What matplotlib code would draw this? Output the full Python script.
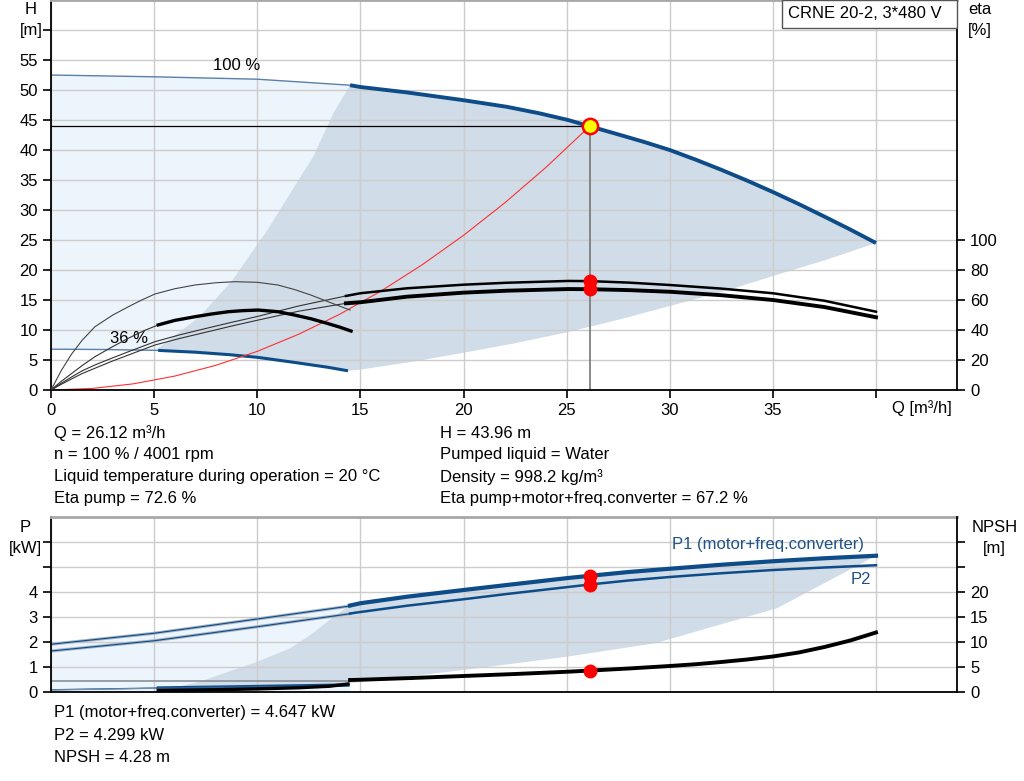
import matplotlib
matplotlib.use('Agg')
import matplotlib.pyplot as plt
from matplotlib.patches import Rectangle

plt.rcParams['font.family'] = ['Liberation Sans', 'DejaVu Sans']
plt.rcParams['font.size'] = 12

# ---------- top panel: head curves [m] ----------
q_h100_thin = [0, 5, 10, 14.5]
h100_thin = [52.5, 52.2, 51.8, 50.8]
q_h100 = [14.5, 15, 17.25, 20, 22.1, 23.7, 25.07, 26.12, 27.5, 28.75, 30, 31.25, 32.5,
          33.75, 35, 36.25, 37.5, 38.75, 40]
h100 = [50.8, 50.5, 49.6, 48.3, 47.2, 46.1, 45.0, 43.96, 42.6, 41.35, 40.0, 38.4, 36.7,
        34.9, 33.0, 31.0, 28.9, 26.75, 24.5]

q_h36_thin = [0, 2.5, 5.2]
h36_thin = [6.8, 6.75, 6.6]
q_h36 = [5.2, 7, 8.6, 10, 11.8, 13.4, 14.4]
h36 = [6.6, 6.3, 5.9, 5.45, 4.6, 3.8, 3.2]

# envelope of the operating range (darker area)
q_env_left = [5.1, 7.2, 8.8, 10.5, 11.6, 12.7, 13.7, 14.5]
h_env_left = [6.7, 12.2, 18.3, 26.7, 32.8, 38.8, 46.2, 50.8]
q_env_low = [14.4, 15, 17.5, 20, 22.5, 25, 27.5, 30, 32.5, 35, 37.5, 40]
h_env_low = [3.2, 3.4, 4.7, 6.2, 7.8, 9.6, 11.7, 14.0, 16.3, 19.0, 21.6, 24.5]

# system curve
q_sys = [0, 2, 4, 6, 8, 10, 12, 14, 16, 18, 20, 22, 24, 26.12]
h_sys = [0, 0.26, 1.03, 2.32, 4.12, 6.44, 9.28, 12.63, 16.49, 20.88, 25.77, 31.19, 37.11, 43.96]

# efficiency curves [%]
q_eta_p_thin = [0, 0.5, 1, 1.5, 2.13, 3, 3.75, 5.04, 6.25, 7.5, 8.75, 10, 12, 14.3]
eta_p_thin = [0, 4.5, 8.7, 12.7, 16.7, 21.5, 25.5, 32.2, 36.8, 41, 45.1, 49, 56, 62.7]
q_eta_p = [14.3, 15, 17.25, 20, 22.1, 25.07, 26.12, 28, 30, 32.5, 35, 37.5, 40]
eta_p = [62.7, 64.5, 67.8, 70.2, 71.5, 72.7, 72.6, 71.6, 70.0, 67.6, 64.5, 59.5, 52.2]

q_eta_t_thin = [0, 0.5, 1, 1.5, 2.13, 3, 3.75, 5.04, 6.25, 7.5, 8.75, 10, 12, 14.3]
eta_t_thin = [0, 3.8, 7.4, 10.9, 14.5, 19.4, 23.3, 30.0, 34.4, 38.5, 42.6, 46.5, 52.5, 57.8]
q_eta_t = [14.3, 15, 17.25, 20, 22.1, 25.07, 26.12, 28, 30, 32.5, 35, 37.5, 40]
eta_t = [57.8, 58.5, 62.2, 64.9, 66.2, 67.3, 67.2, 66.6, 65.5, 63.2, 60.0, 55.3, 48.5]

q_eta_p36 = [0, 0.5, 1, 1.5, 2.13, 3, 3.75, 4.4, 5.04, 6, 6.98, 8, 8.9, 10, 11, 11.8,
             12.6, 13.5, 14.5]
eta_p36 = [0, 13, 24, 33, 42.2, 50, 55.5, 60, 64, 67.5, 70, 71.5, 72.2, 71.8, 70, 67,
           63.3, 58.5, 53.3]

q_eta_t36_thin = [0, 0.5, 1, 1.5, 2.13, 3, 3.75, 4.5, 5.2]
eta_t36_thin = [0, 5.8, 11, 16.2, 22.2, 29, 34.5, 39.5, 43.4]
q_eta_t36 = [5.2, 6, 7, 7.8, 8.6, 9.3, 10.05, 11, 11.8, 12.6, 13.4, 14.0, 14.55]
eta_t36 = [43.4, 46.4, 48.9, 50.7, 52.2, 52.9, 53.3, 52.2, 50.0, 47.5, 44.4, 41.9, 39.3]

# duty point
q_op = 26.12
h_op = 43.96
eta_p_op = 72.6
eta_t_op = 67.2

# ---------- bottom panel: power [kW] and NPSH [m] ----------
q_p_thin = [0, 5, 10, 14.5]
p1_thin = [1.91, 2.35, 2.92, 3.44]
p2_thin = [1.64, 2.05, 2.61, 3.13]
q_p = [14.5, 15, 17.25, 20, 22.1, 25.07, 26.12, 28, 30, 32.5, 35, 37.5, 40]
p1 = [3.46, 3.55, 3.81, 4.08, 4.28, 4.56, 4.647, 4.8, 4.93, 5.09, 5.23, 5.35, 5.45]
p2 = [3.14, 3.2, 3.45, 3.71, 3.92, 4.2, 4.299, 4.46, 4.6, 4.75, 4.88, 4.98, 5.07]

q_p36_thin = [0, 5.2]
p1_36_thin = [0.09, 0.16]
p2_36_thin = [0.08, 0.15]
q_p36 = [5.2, 10, 14.4]
p1_36 = [0.16, 0.22, 0.28]
p2_36 = [0.15, 0.2, 0.25]

q_gray = [0, 14.4]
p_gray = [0.44, 0.44]

q_npsh = [14.5, 15, 17.5, 20, 22.5, 25.07, 26.12, 28, 30, 31.25, 32.5, 33.75, 35, 36.25,
          37.5, 38.75, 40]
npsh = [2.4, 2.45, 2.8, 3.2, 3.6, 4.06, 4.28, 4.7, 5.2, 5.55, 6.0, 6.5, 7.1, 7.9, 9.0,
        10.3, 11.9]
q_npsh36 = [5.2, 7.5, 10, 12, 13.5, 14.4]
npsh36 = [0.3, 0.42, 0.62, 0.85, 1.15, 1.6]

q_penv_left = [5.2, 7.2, 10, 11.6, 12.7, 13.7, 14.5]
p_penv_left = [0.02, 0.41, 1.21, 1.75, 2.35, 3.01, 3.46]
q_penv_low = [5.2, 14.5, 20, 25, 29.3, 35.2, 40]
p_penv_low = [0.02, 0.35, 0.88, 1.41, 1.95, 3.35, 5.45]

npsh_op = 4.28

BLUE = '#0d4c88'
BLUE_TXT = '#1f5286'
LIGHT = '#edf5fc'
DARK = '#d0dce7'
GRID = '#cccccc'

W, H = 1024, 781
fig = plt.figure(figsize=(W / 100, H / 100), dpi=100)


def fx(x):
    return x / W


def fy(y):
    return 1 - y / H


xmax = 906 / 20.625

# ================= top panel =================
ax = fig.add_axes([fx(51), fy(390), fx(906), 390 / H])
ax.set_xlim(0, xmax)
ax.set_ylim(0, 65)

ax.fill(q_h100_thin + q_h36[::-1] + q_h36_thin[::-1],
        h100_thin + h36[::-1] + h36_thin[::-1], color=LIGHT, lw=0, zorder=0.2)
ax.fill(q_env_left + q_h100[1:] + q_env_low[::-1] + q_h36[::-1],
        h_env_left + h100[1:] + h_env_low[::-1] + h36[::-1], color=DARK, lw=0, zorder=0.3)

ax.plot(q_h100_thin, h100_thin, color='#5a80a8', lw=1.0)
ax.plot(q_h100, h100, color=BLUE, lw=2.8, solid_capstyle='butt')
ax.plot(q_h36_thin, h36_thin, color='#5a80a8', lw=1.0)
ax.plot(q_h36, h36, color=BLUE, lw=2.2, solid_capstyle='butt')
ax.plot(q_sys, h_sys, color='#ff3030', lw=0.8)
ax.plot([0, q_op], [h_op, h_op], color='black', lw=0.9)
ax.plot([q_op, q_op], [0, h_op], color='#777777', lw=1.2)
ax.plot([q_op], [h_op], marker='o', ms=11, mfc='#ffff00', mec='#ff0000', mew=1.8, zorder=6)

ax.text(9, 54, '100 %', ha='center', va='center', fontsize=12)
ax.text(3.8, 8.6, '36 %', ha='center', va='center', fontsize=12)

ax.set_xticks(range(0, 41, 5))
ax.set_xticklabels([str(v) for v in range(0, 36, 5)] + [''])
ax.set_yticks(range(0, 61, 5))
ax.set_yticklabels([str(v) for v in range(0, 56, 5)] + [''])
ax.tick_params(axis='x', length=6, width=1.2, pad=3, labelsize=12)
ax.tick_params(axis='y', length=6, width=1.2, pad=3.5, labelsize=12)
ax.grid(True, color=GRID, lw=1)
ax.set_axisbelow(True)
ax.spines['right'].set_visible(False)
ax.spines['top'].set_color('#a8a8a8')
ax.spines['top'].set_linewidth(2)
for s in ['left', 'bottom']:
    ax.spines[s].set_linewidth(1.3)

axe = ax.twinx()
axe.set_ylim(0, 260)
axe.plot(q_eta_p_thin, eta_p_thin, color='#333333', lw=0.8)
axe.plot(q_eta_p, eta_p, color='black', lw=1.8)
axe.plot(q_eta_t_thin, eta_t_thin, color='#333333', lw=0.8)
axe.plot(q_eta_t, eta_t, color='black', lw=2.8)
axe.plot(q_eta_p36, eta_p36, color='#444444', lw=0.8)
axe.plot(q_eta_t36_thin, eta_t36_thin, color='#333333', lw=0.8)
axe.plot(q_eta_t36, eta_t36, color='black', lw=2.4)
axe.plot([q_op, q_op], [eta_p_op, eta_t_op], ls='none', marker='o', ms=9,
         mfc='#ff0000', mec='#ff0000', zorder=6)
axe.set_yticks(range(0, 101, 20))
axe.tick_params(axis='y', length=6, width=1.2, pad=3.5, labelsize=12)
for s in ['left', 'top', 'bottom']:
    axe.spines[s].set_visible(False)
axe.spines['right'].set_linewidth(1.3)

# ================= bottom panel =================
bx = fig.add_axes([fx(51), fy(692), fx(906), 175 / H])
bx.set_xlim(0, xmax)
bx.set_ylim(0, 7)

bx.fill(q_p_thin + [14.5, 0], p1_thin + [0, 0], color=LIGHT, lw=0, zorder=0.2)
bx.fill(q_penv_left + q_p[1:] + q_penv_low[::-1],
        p_penv_left + p1[1:] + p_penv_low[::-1], color=DARK, lw=0, zorder=0.3)

for qq, pp in [(q_p_thin, p1_thin), (q_p_thin, p2_thin)]:
    bx.plot(qq, pp, color='#a5b3c2', lw=2.2)
    bx.plot(qq, pp, color=BLUE, lw=0.8)
bx.plot(q_p, p1, color=BLUE, lw=3.0)
bx.plot(q_p, p2, color=BLUE, lw=1.8)
bx.plot(q_gray, p_gray, color='#8a9098', lw=1.2)
bx.plot(q_p36_thin, p1_36_thin, color=BLUE, lw=0.9)
bx.plot(q_p36_thin, p2_36_thin, color='#6f8fb0', lw=0.9)
bx.plot(q_p36, p1_36, color=BLUE, lw=2.4)
bx.plot(q_p36, p2_36, color='#2d6096', lw=1.2)
bx.plot([q_op, q_op], [4.647, 4.299], ls='none', marker='o', ms=9,
        mfc='#ff0000', mec='#ff0000', zorder=6)

bx.text(34.75, 5.92, 'P1 (motor+freq.converter)', color=BLUE_TXT, ha='center', va='center', fontsize=12)
bx.text(39.27, 4.52, 'P2', color=BLUE_TXT, ha='center', va='center', fontsize=12)

bx.set_xticks(range(0, 41, 5))
bx.set_xticklabels([])
bx.tick_params(axis='x', length=0)
bx.set_yticks(range(0, 7))
bx.set_yticklabels(['0', '1', '2', '3', '4', '', ''])
bx.tick_params(axis='y', length=6, width=1.2, pad=3.5, labelsize=12)
bx.grid(True, color=GRID, lw=1)
bx.set_axisbelow(True)
bx.spines['right'].set_visible(False)
bx.spines['top'].set_color('#a8a8a8')
bx.spines['top'].set_linewidth(2)
for s in ['left', 'bottom']:
    bx.spines[s].set_linewidth(1.3)

bn = bx.twinx()
bn.set_ylim(0, 35)
bn.plot(q_npsh, npsh, color='black', lw=2.8)
bn.plot(q_npsh36, npsh36, color='black', lw=2.4)
bn.plot([q_op], [npsh_op], ls='none', marker='o', ms=9, mfc='#ff0000', mec='#ff0000', zorder=6)
bn.set_yticks(range(0, 31, 5))
bn.set_yticklabels(['0', '5', '10', '15', '20', '', ''])
bn.tick_params(axis='y', length=6, width=1.2, pad=3.5, labelsize=12)
for s in ['left', 'top', 'bottom']:
    bn.spines[s].set_visible(False)
bn.spines['right'].set_linewidth(1.3)

# ================= labels and texts =================
fig.text(fx(31), fy(10), 'H', ha='center', va='center')
fig.text(fx(31), fy(30), '[m]', ha='center', va='center')
fig.text(fx(980), fy(10), 'eta', ha='center', va='center')
fig.text(fx(980), fy(30), '[%]', ha='center', va='center')
fig.text(fx(892), fy(408), 'Q [m³/h]', ha='left', va='center')
fig.text(fx(25), fy(528), 'P', ha='center', va='center')
fig.text(fx(25), fy(548), '[kW]', ha='center', va='center')
fig.text(fx(995), fy(528), 'NPSH', ha='center', va='center')
fig.text(fx(994), fy(548), '[m]', ha='center', va='center')

fig.add_artist(Rectangle((fx(782), fy(28)), fx(175), 28 / H, transform=fig.transFigure,
                         facecolor='white', edgecolor='#555555', lw=1, zorder=8))
fig.text(fx(788), fy(14), 'CRNE 20-2, 3*480 V', ha='left', va='center', zorder=9)

left_info = ['Q = 26.12 m³/h', 'n = 100 % / 4001 rpm',
             'Liquid temperature during operation = 20 °C', 'Eta pump = 72.6 %']
right_info = ['H = 43.96 m', 'Pumped liquid = Water', 'Density = 998.2 kg/m³',
              'Eta pump+motor+freq.converter = 67.2 %']
rows_top = [433, 455, 477, 498]
for i, y in enumerate(rows_top):
    fig.text(fx(54), fy(y), left_info[i], ha='left', va='center')
    fig.text(fx(440), fy(y), right_info[i], ha='left', va='center')

bottom_info = ['P1 (motor+freq.converter) = 4.647 kW', 'P2 = 4.299 kW', 'NPSH = 4.28 m']
rows_bot = [713, 735, 757]
for i, y in enumerate(rows_bot):
    fig.text(fx(54), fy(y), bottom_info[i], ha='left', va='center')

fig.savefig('out.png', dpi=100)
